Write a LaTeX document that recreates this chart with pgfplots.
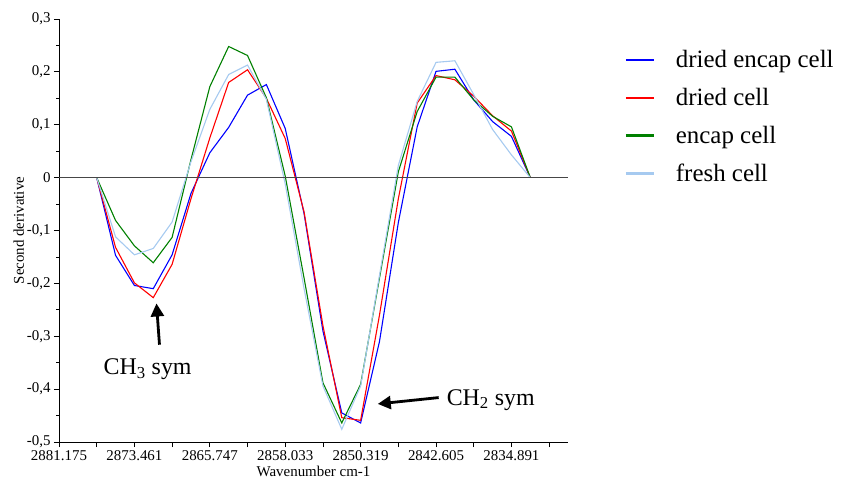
\documentclass[border=0pt]{standalone}
\usepackage{pgfplots}
\pgfplotsset{compat=1.18}
\usepackage{fontspec}
\setmainfont{Liberation Serif}
\usetikzlibrary{arrows.meta}
\definecolor{cblue}{RGB}{0,0,255}
\definecolor{cred}{RGB}{255,0,0}
\definecolor{cgreen}{RGB}{0,128,0}
\definecolor{clight}{RGB}{166,202,240}
\definecolor{zline}{RGB}{70,70,70}
\begin{document}
\begin{tikzpicture}
\useasboundingbox (0,0) rectangle (843bp,479bp);
\begin{axis}[
  at={(59bp,37bp)}, anchor=south west,
  scale only axis, width=509bp, height=423bp,
  xmin=0, xmax=27, ymin=-0.5, ymax=0.3,
  axis x line=bottom, axis y line=left,
  axis line style={-, black, line width=0.8bp},
  clip=false,
  xtick={0,2,...,26},
  xticklabels={2881.175,,2873.461,,2865.747,,2858.033,,2850.319,,2842.605,,2834.891,},
  ytick={-0.5,-0.4,-0.3,-0.2,-0.1,0,0.1,0.2,0.3},
  yticklabels={{-0,5},{-0,4},{-0,3},{-0,2},{-0,1},{0},{0,1},{0,2},{0,3}},
  minor ytick={-0.45,-0.35,-0.25,-0.15,-0.05,0.05,0.15,0.25},
  tick align=outside,
  major tick length=5bp, minor tick length=2.5bp,
  tick style={black, line width=0.8bp},
  ticklabel style={font=\fontsize{15}{15}\selectfont},
  label style={font=\fontsize{15}{15}\selectfont},
  xlabel={Wavenumber cm-1},
  ylabel={Second derivative},
  xlabel style={yshift=1bp},
  ylabel style={yshift=-4bp},
  legend style={draw=none, at={(1.105,0.935)}, anchor=north west,
    font=\fontsize{25}{25}\selectfont, row sep=15bp, cells={anchor=west}},
  legend image code/.code={\draw[#1, line width=2.6bp] (0bp,0bp) -- (28bp,0bp); \path[draw=none] (28bp,0bp) -- (48bp,0bp);},
]
\addplot[cblue, line width=1.1bp] coordinates {
(2,0) (3,-0.147) (4,-0.204) (5,-0.210) (6,-0.146) (7,-0.030) (8,0.047) (9,0.095)
(10,0.156) (11,0.176) (12,0.093) (13,-0.068) (14,-0.29) (15,-0.445) (16,-0.464)
(17,-0.31) (18,-0.085) (19,0.096) (20,0.201) (21,0.205) (22,0.147) (23,0.106) (24,0.078) (25,0)};
\addlegendentry{dried encap cell}
\addplot[cred, line width=1.1bp] coordinates {
(2,0) (3,-0.132) (4,-0.199) (5,-0.227) (6,-0.164) (7,-0.040) (8,0.075) (9,0.180)
(10,0.204) (11,0.150) (12,0.074) (13,-0.065) (14,-0.28) (15,-0.454) (16,-0.459)
(17,-0.26) (18,-0.04) (19,0.141) (20,0.193) (21,0.185) (22,0.154) (23,0.117) (24,0.088) (25,0)};
\addlegendentry{dried cell}
\addplot[cgreen, line width=1.1bp] coordinates {
(2,0) (3,-0.081) (4,-0.129) (5,-0.161) (6,-0.113) (7,0.034) (8,0.172) (9,0.248)
(10,0.231) (11,0.151) (12,0.003) (13,-0.19) (14,-0.388) (15,-0.464) (16,-0.391)
(17,-0.19) (18,0.011) (19,0.125) (20,0.190) (21,0.190) (22,0.147) (23,0.116) (24,0.096) (25,0)};
\addlegendentry{encap cell}
\addplot[clight, line width=1.1bp] coordinates {
(2,0) (3,-0.112) (4,-0.146) (5,-0.134) (6,-0.084) (7,0.03) (8,0.129) (9,0.195)
(10,0.213) (11,0.148) (12,-0.012) (13,-0.21) (14,-0.394) (15,-0.476) (16,-0.394)
(17,-0.185) (18,0.023) (19,0.144) (20,0.218) (21,0.221) (22,0.157) (23,0.091) (24,0.043) (25,0)};
\addlegendentry{fresh cell}
\addplot[zline, line width=1.5bp, forget plot] coordinates {(0,0) (27,0)};
\draw[-{Triangle[width=13bp,length=13bp]}, line width=2.8bp, black]
  (axis cs:5.33,-0.316) -- (axis cs:5.17,-0.238);
\node[font=\fontsize{24}{24}\selectfont] at (axis cs:4.7,-0.362) {CH\textsubscript{3} sym};
\draw[-{Triangle[width=13bp,length=13bp]}, line width=2.8bp, black]
  (axis cs:20.14,-0.416) -- (axis cs:16.91,-0.428);
\node[font=\fontsize{24}{24}\selectfont] at (axis cs:22.9,-0.42) {CH\textsubscript{2} sym};
\end{axis}
\end{tikzpicture}
\end{document}
